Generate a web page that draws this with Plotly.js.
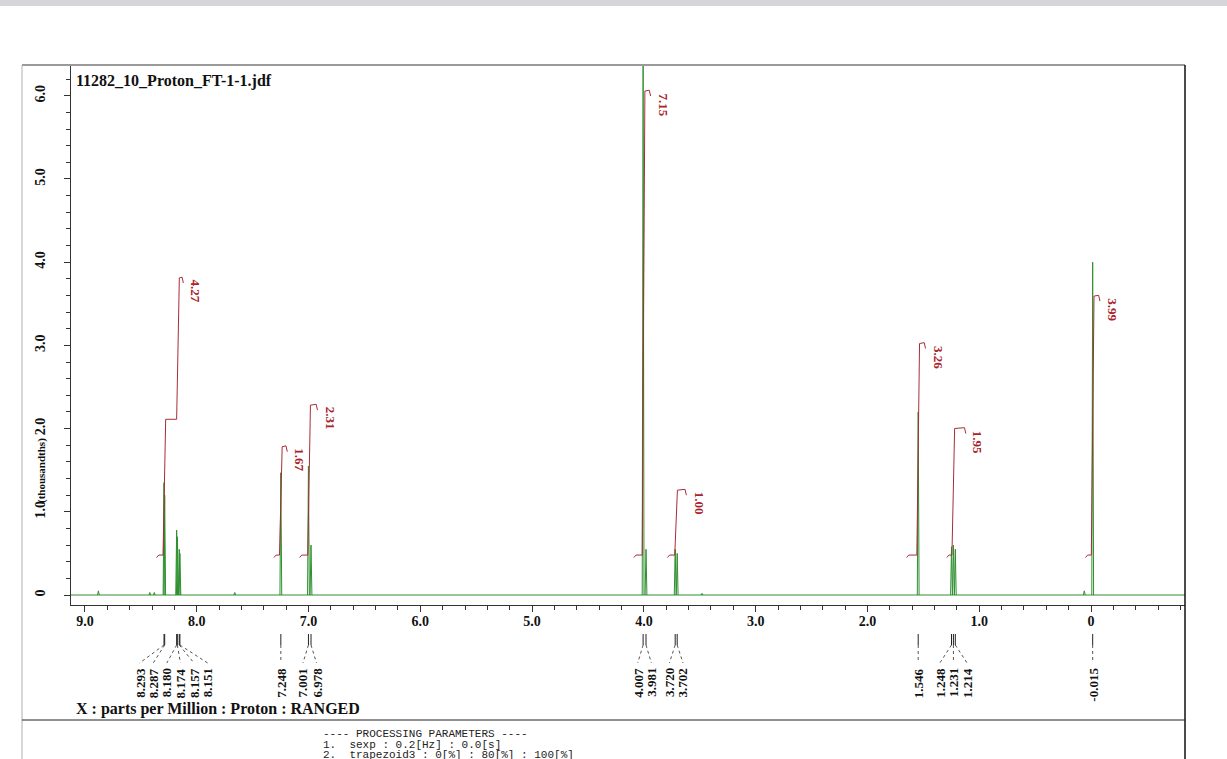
<!DOCTYPE html>
<html><head><meta charset="utf-8">
<script src="https://cdn.plot.ly/plotly-3.0.1.min.js"></script>
<style>html,body{margin:0;padding:0;background:#fff;overflow:hidden}#chart{width:1227px;height:759px}</style>
</head><body><div id="chart"></div>
<script>
// ---------- data ----------
const fileTitle = '11282_10_Proton_FT-1-1.jdf';
const xAxisLabel = 'X : parts per Million : Proton : RANGED';
const yAxisLabel = '(thousandths)';
const xTickVals = [9, 8, 7, 6, 5, 4, 3, 2, 1, 0];
const xTickText = ['9.0', '8.0', '7.0', '6.0', '5.0', '4.0', '3.0', '2.0', '1.0', '0'];
const yTickVals = [0, 1, 2, 3, 4, 5, 6];
const yTickText = ['0', '1.0', '2.0', '3.0', '4.0', '5.0', '6.0'];

// peak positions (ppm) and heights (thousands)
const peakPpm    = [8.880, 8.420, 8.380, 8.293, 8.287, 8.180, 8.174, 8.157, 8.151, 7.660, 7.248, 7.001, 6.978, 4.007, 3.981, 3.720, 3.702, 3.480, 1.546, 1.248, 1.231, 1.214, 0.060, -0.015];
const peakHeight = [0.05, 0.03, 0.03, 1.35, 1.20, 0.78, 0.70, 0.55, 0.50, 0.03, 1.47, 1.55, 0.60, 6.36, 0.55, 0.55, 0.50, 0.02, 2.20, 0.58, 0.60, 0.55, 0.05, 4.00];

// picked peak labels
const labelPpm  = [8.293, 8.287, 8.180, 8.174, 8.157, 8.151, 7.248, 7.001, 6.978, 4.007, 3.981, 3.720, 3.702, 1.546, 1.248, 1.231, 1.214, -0.015];
const labelText = ['8.293', '8.287', '8.180', '8.174', '8.157', '8.151', '7.248', '7.001', '6.978', '4.007', '3.981', '3.720', '3.702', '1.546', '1.248', '1.231', '1.214', '-0.015'];

// integrals
const intValue    = [4.27, 1.67, 2.31, 7.15, 1.00, 3.26, 1.95, 3.99];
const intStart    = [8.36, 7.31, 7.08, 4.09, 3.79, 1.65, 1.29, 0.05];
const intEnd      = [8.12, 7.19, 6.92, 3.94, 3.62, 1.48, 1.12, -0.08];
const intStepPpm  = [[8.290, 8.168], [7.248], [6.995], [4.003], [3.712], [1.546], [1.232], [-0.015]];
const intStepFrac = [[0.49, 1.00], [1], [1], [1], [1], [1], [1], [1]];

const processingLines = ['---- PROCESSING PARAMETERS ----', '1.  sexp : 0.2[Hz] : 0.0[s]', '2.  trapezoid3 : 0[%] : 80[%] : 100[%]'];

// ---------- layout geometry ----------
const W = 1227, H = 759, ML = 71, MR = 42, MT = 65, MB = 154;
const PW = W - ML - MR, PH = H - MT - MB;
const XR = [9.1252, -0.8409];
const YR = [-0.1202, 6.370];
const fx = px => (px - ML) / PW;
const fy = py => (H - MB - py) / PH;
const ppmToPx = p => ML + (XR[0] - p) / (XR[0] - XR[1]) * PW;
const pxToPpm = px => XR[0] - (px - ML) / PW * (XR[0] - XR[1]);

const serif = 'Liberation Serif, Times New Roman, serif';
const green = '#2f8f2f';
const intColor = '#a82c38';
const labColor = '#a8232a';

// ---------- spectrum ----------
const baseTrace = {x: [XR[0], XR[1]], y: [0, 0], mode: 'lines', line: {color: green, width: 1}, hoverinfo: 'skip'};
const pw = 0.008;
const sx = [], sy = [];
peakPpm.forEach((p, i) => { sx.push(p + pw, p, p - pw, null); sy.push(0, peakHeight[i], 0, null); });
const peakTrace = {x: sx, y: sy, mode: 'lines', line: {color: green, width: 1}, hoverinfo: 'skip'};

// ---------- integrals ----------
const base = 0.48, scale = 0.78, rw = 0.012;
const ix = [], iy = [];
const annotations = [];
intValue.forEach((v, i) => {
  const top = base + v * scale;
  ix.push(intStart[i], intStart[i] - 0.02); iy.push(base - 0.03, base);
  let prev = 0;
  intStepPpm[i].forEach((s, k) => {
    const post = intStepFrac[i][k] * v;
    ix.push(s + rw, s, s - rw); iy.push(base + prev * scale, base + (prev + post) / 2 * scale, base + post * scale);
    prev = post;
  });
  ix.push(intEnd[i] + 0.012, intEnd[i], null); iy.push(top + 0.01, top - 0.06, null);
  annotations.push({x: intEnd[i], y: top, xref: 'x', yref: 'y', xanchor: 'left', yanchor: 'top', xshift: 3, textangle: 90,
    text: v.toFixed(2), showarrow: false, font: {family: serif, size: 13, color: labColor, weight: 'bold'}});
});
const intTrace = {x: ix, y: iy, mode: 'lines', line: {color: intColor, width: 1}, hoverinfo: 'skip', connectgaps: false};

// ---------- peak label positions (spread to avoid overlap) ----------
const sp = 13.6;
let clusters = labelPpm.map((p, i) => ({idx: [i], c: ppmToPx(p)}));
let merged = true;
while (merged) {
  merged = false;
  for (let k = 0; k < clusters.length - 1; k++) {
    const a = clusters[k], b = clusters[k + 1];
    const aR = a.c + (a.idx.length - 1) * sp / 2, bL = b.c - (b.idx.length - 1) * sp / 2;
    if (bL - aR < sp) {
      const idx = a.idx.concat(b.idx);
      const c = idx.reduce((s, j) => s + ppmToPx(labelPpm[j]), 0) / idx.length;
      clusters.splice(k, 2, {idx: idx, c: c});
      merged = true; break;
    }
  }
}
const labelPx = [];
clusters.forEach(cl => cl.idx.forEach((j, n) => { labelPx[j] = cl.c + (n - (cl.idx.length - 1) / 2) * sp; }));

const shapes = [];
labelPpm.forEach((p, i) => {
  shapes.push({type: 'line', xref: 'x', yref: 'paper', x0: p, x1: p, y0: fy(634), y1: fy(645), line: {color: '#222', width: 1}});
  shapes.push({type: 'line', xref: 'x', yref: 'paper', x0: p, x1: pxToPpm(labelPx[i]), y0: fy(645), y1: fy(663), line: {color: '#555', width: 1, dash: 'dot'}});
  annotations.push({x: pxToPpm(labelPx[i]), y: fy(666), xref: 'x', yref: 'paper', xanchor: 'center', yanchor: 'top', textangle: -90,
    text: labelText[i], showarrow: false, font: {family: serif, size: 13, color: '#111', weight: 'bold'}});
});

// ---------- frame ----------
shapes.push({type: 'rect', xref: 'paper', yref: 'paper', x0: fx(0), x1: fx(W), y0: fy(0), y1: fy(6), fillcolor: '#d6d6da', line: {width: 0}});
shapes.push({type: 'line', xref: 'paper', yref: 'paper', x0: fx(22), x1: fx(1185), y0: fy(65), y1: fy(65), line: {color: '#9a9a9a', width: 2}});
shapes.push({type: 'line', xref: 'paper', yref: 'paper', x0: fx(22), x1: fx(22), y0: fy(65), y1: fy(H), line: {color: '#b0b0b0', width: 1}});
shapes.push({type: 'line', xref: 'paper', yref: 'paper', x0: fx(1185), x1: fx(1185), y0: fy(65), y1: fy(H), line: {color: '#111', width: 1.5}});
shapes.push({type: 'line', xref: 'paper', yref: 'paper', x0: fx(22), x1: fx(1185), y0: fy(720), y1: fy(720), line: {color: '#222', width: 1}});

// ---------- texts ----------
annotations.push({x: fx(74), y: fy(81), xref: 'paper', yref: 'paper', xanchor: 'left', yanchor: 'middle', text: fileTitle, showarrow: false,
  font: {family: serif, size: 16, color: '#111', weight: 'bold'}});
annotations.push({x: fx(74), y: fy(709), xref: 'paper', yref: 'paper', xanchor: 'left', yanchor: 'middle', text: xAxisLabel, showarrow: false,
  font: {family: serif, size: 16, color: '#111', weight: 'bold'}});
annotations.push({x: fx(41), y: fy(471), xref: 'paper', yref: 'paper', xanchor: 'center', yanchor: 'middle', textangle: -90, text: yAxisLabel, showarrow: false,
  font: {family: serif, size: 11, color: '#111', weight: 'bold'}});
processingLines.forEach((t, i) => {
  annotations.push({x: fx(321), y: fy(734 + i * 10.5), xref: 'paper', yref: 'paper', xanchor: 'left', yanchor: 'middle',
    text: t.replace(/ /g, '\u00a0'), showarrow: false, font: {family: 'Liberation Mono, Courier New, monospace', size: 11, color: '#222'}});
});

const tickFont = {family: serif, size: 14, color: '#111', weight: 'bold'};
const layout = {
  width: W, height: H, margin: {l: ML, r: MR, t: MT, b: MB, pad: 0},
  paper_bgcolor: '#fff', plot_bgcolor: '#fff', showlegend: false,
  xaxis: {range: XR, tickmode: 'array', tickvals: xTickVals, ticktext: xTickText, ticks: 'outside', ticklen: 6, tickcolor: '#333',
    showline: true, linecolor: '#333', linewidth: 1, showgrid: false, zeroline: false, tickfont: tickFont, ticklabelstandoff: -3,
    minor: {dtick: 0.2, tick0: 0, ticks: 'outside', ticklen: 4, tickcolor: '#333', showgrid: false}},
  yaxis: {range: YR, tickmode: 'array', tickvals: yTickVals, ticktext: yTickText, ticks: 'outside', ticklen: 6, tickcolor: '#333',
    showline: true, linecolor: '#333', linewidth: 1, showgrid: false, zeroline: false, tickfont: tickFont, tickangle: -90, ticklabelstandoff: 13,
    minor: {dtick: 0.2, tick0: 0, ticks: 'outside', ticklen: 4, tickcolor: '#333', showgrid: false}},
  shapes: shapes, annotations: annotations
};
Plotly.newPlot('chart', [baseTrace, peakTrace, intTrace], layout, {staticPlot: true, displayModeBar: false});
</script>
</body></html>
